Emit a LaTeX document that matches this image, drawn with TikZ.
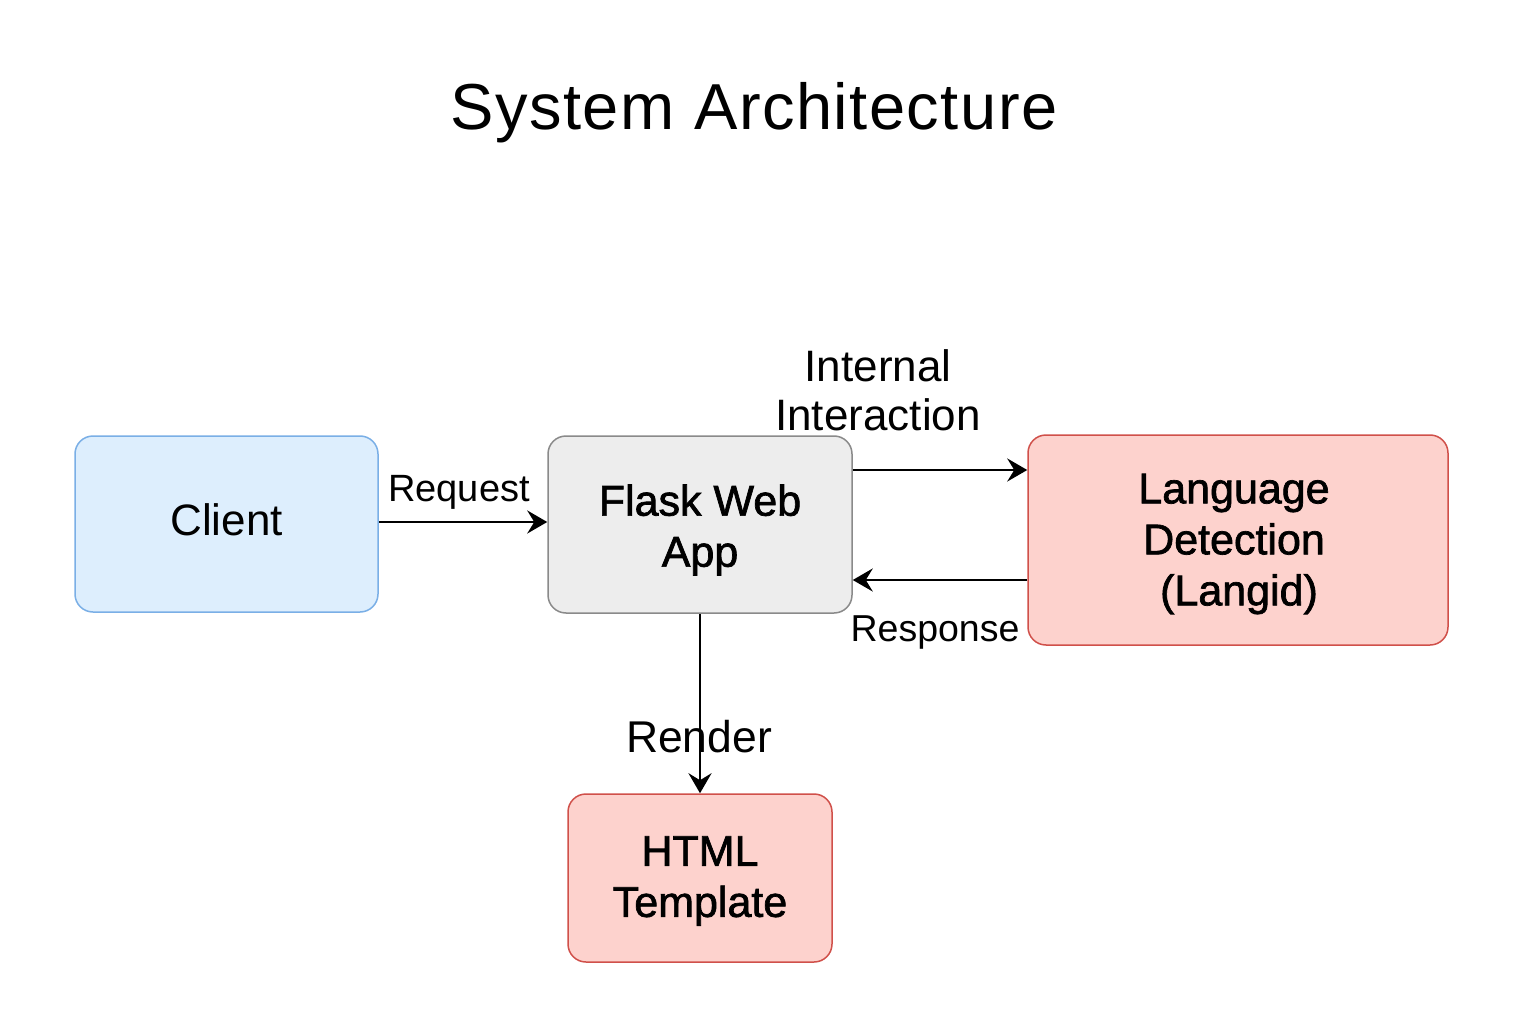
\documentclass[tikz,border=0pt]{standalone}
\usepackage{fontspec}
\setmainfont{Liberation Sans}
\newfontfamily\medfont[FakeBold=1.6]{Liberation Sans}
\newfontfamily\titlefont[LetterSpace=2.3]{Liberation Sans}
\usetikzlibrary{arrows.meta}
\definecolor{bluefill}{HTML}{DDEEFD}
\definecolor{blueline}{HTML}{7AAFE6}
\definecolor{grayfill}{HTML}{EDEDED}
\definecolor{grayline}{HTML}{8A8A8A}
\definecolor{redfill}{HTML}{FDD2CD}
\definecolor{redline}{HTML}{D0504A}
\tikzset{
  box/.style={rectangle, rounded corners=18pt, line width=1.5pt, align=center, inner sep=0pt},
  medtext/.style={font=\medfont\fontsize{43}{51}\selectfont},
  lbl/.style={inner sep=0pt, align=center},
  arr/.style={line width=2.8pt, -{Stealth[length=20pt,width=23pt,inset=7pt]}},
}
\begin{document}
\begin{tikzpicture}[x=1pt,y=-1pt]
\useasboundingbox[fill=white] (0,0) rectangle (1536,1024);
\node[lbl, font=\titlefont\fontsize{65}{73}\selectfont] (title) at (754,113) {System Architecture};
\node[box, fill=bluefill, draw=blueline, minimum width=303pt, minimum height=176pt] (client) at (226.5,524) {};
\node[lbl, font=\fontsize{44}{52}\selectfont] (clientt) at (226.5,520) {Client};
\node[box, fill=grayfill, draw=grayline, minimum width=304pt, minimum height=177pt] (flask) at (700,524.5) {};
\node[lbl, medtext] (flaskt) at (700,530) {Flask Web\\App};
\node[box, fill=redfill, draw=redline, minimum width=420pt, minimum height=210pt] (lang) at (1238,540) {};
\node[lbl, medtext] (langt) at (1234,544) {Language\\Detection\\\hspace*{10pt}(Langid)};
\node[box, fill=redfill, draw=redline, minimum width=264pt, minimum height=168pt] (html) at (700,878) {};
\node[lbl, medtext] (htmlt) at (700,881) {HTML\\Template};
\draw[arr] (client.east |- 0,522) -- (flask.west |- 0,522);
\draw[arr] (flask.east |- 0,470) -- (lang.west |- 0,470);
\draw[arr] (lang.west |- 0,580) -- (flask.east |- 0,580);
\draw[arr] (flask.south) -- (html.north);
\node[lbl, font=\fontsize{38}{46}\selectfont] (lreq) at (459,492) {Request};
\node[lbl, font=\fontsize{44}{49}\selectfont] (lint) at (878,390) {Internal\\Interaction};
\node[lbl, font=\fontsize{37.5}{45}\selectfont] (lresp) at (935,632) {Response};
\node[lbl, font=\fontsize{44.5}{52}\selectfont] (lrend) at (699,737) {Render};
\end{tikzpicture}
\end{document}
